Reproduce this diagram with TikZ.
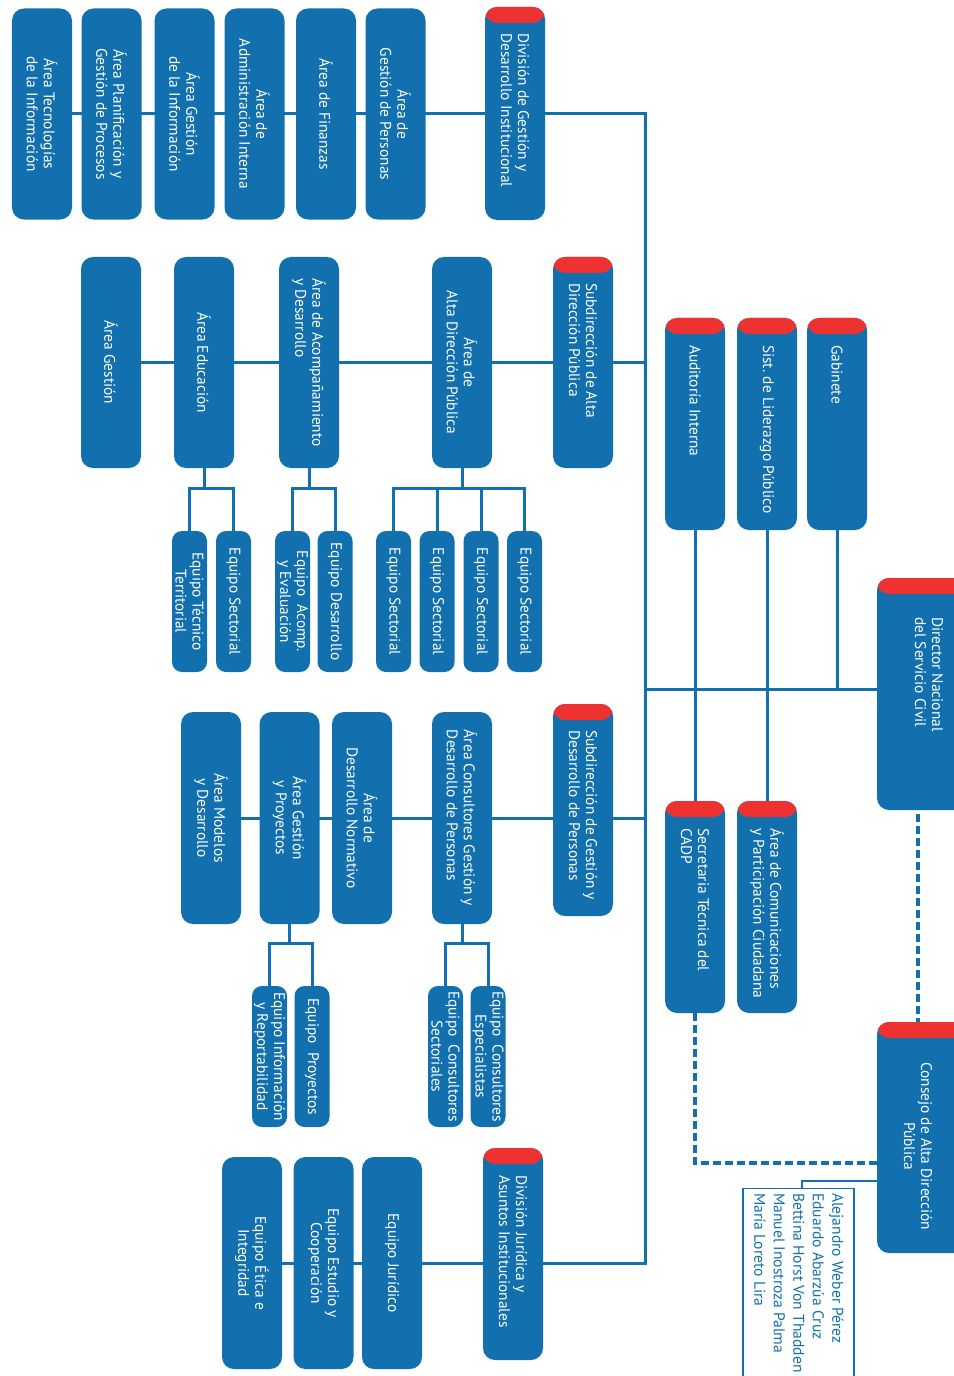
\documentclass[tikz,border=0pt]{standalone}
\usepackage{fontspec}
\setmainfont{PT Sans}
\usetikzlibrary{backgrounds}
\definecolor{cblue}{RGB}{17,112,173}
\definecolor{cred}{RGB}{238,49,49}
\frenchspacing
\begin{document}
\begin{tikzpicture}[x=1bp,y=-1bp,
 box/.style={fill=cblue, rounded corners=12bp, minimum width=60bp, minimum height=211bp, inner sep=0pt, outer sep=0pt},
 sbox/.style={fill=cblue, rounded corners=10bp, minimum width=35bp, minimum height=141bp, inner sep=0pt, outer sep=0pt},
 redtop/.style={path picture={\fill[cred] ([yshift=2bp]path picture bounding box.north west) rectangle ([yshift=-16bp]path picture bounding box.north east);}},
 lbl/.style={text=white, font=\fontsize{15.4bp}{17bp}\selectfont, inner sep=0pt, rotate=-90, align=center},
 conn/.style={draw=cblue, line width=3bp},
 dconn/.style={draw=cblue, line width=4bp, dash pattern=on 8bp off 4bp},
 tconn/.style={draw=cblue, line width=1.3bp},
]
\useasboundingbox (0,0) rectangle (953,1376);

% Row 1
\node[box] (r1a) at (42,114) {};
\node[box] (r1b) at (111.5,114) {};
\node[box] (r1c) at (184.5,114) {};
\node[box] (r1d) at (254.5,114) {};
\node[box] (r1e) at (326,114) {};
\node[box] (r1f) at (395.5,114) {};
\node[box,redtop,minimum height=213bp] (r1g) at (515,113.5) {};
\node[lbl] (t1a) at (r1a.center) {Área Tecnologías\\de la Información};
\node[lbl] (t1b) at (r1b.center) {Área Planificación y\\Gestión de Procesos};
\node[lbl] (t1c) at (r1c.center) {Área Gestión\\de la Información};
\node[lbl] (t1d) at (r1d.center) {Área de\\Administración Interna};
\node[lbl] (t1e) at (r1e.center) {Área de Finanzas};
\node[lbl] (t1f) at (r1f.center) {Área de\\Gestión de Personas};
\node[lbl,align=left,anchor=west] (t1g) at ([yshift=-26bp]r1g.north) {División de Gestión y\\Desarrollo Institucional};

% Row 2
\node[box] (r2a) at (111,362.5) {};
\node[box] (r2b) at (204,362.5) {};
\node[box] (r2c) at (309,362.5) {};
\node[box] (r2d) at (462,362.5) {};
\node[box,redtop] (r2e) at (583,362.5) {};
\node[lbl] (t2a) at (r2a.center) {Área Gestión};
\node[lbl] (t2b) at (r2b.center) {Área Educación};
\node[lbl,align=left] (t2c) at (r2c.center) {Área de Acompañamiento\\y Desarrollo};
\node[lbl] (t2d) at (r2d.center) {Área de\\Alta Dirección Pública};
\node[lbl,align=left,anchor=west] (t2e) at ([yshift=-26bp]r2e.north) {Subdirección de Alta\\Dirección Pública};

% Row 2 children
\node[sbox] (k1) at (189.5,601.5) {};
\node[sbox] (k2) at (233.5,601.5) {};
\node[sbox] (k3) at (292.5,601.5) {};
\node[sbox] (k4) at (335,601.5) {};
\node[sbox] (k5) at (393.5,601.5) {};
\node[sbox] (k6) at (437,601.5) {};
\node[sbox] (k7) at (481,601.5) {};
\node[sbox] (k8) at (524.5,601.5) {};
\node[lbl] (tk1) at (k1.center) {Equipo Técnico\\Territorial};
\node[lbl] (tk2) at (k2.center) {Equipo Sectorial};
\node[lbl] (tk3) at (k3.center) {Equipo\ \ Acomp.\\y Evaluación};
\node[lbl] (tk4) at (k4.center) {Equipo Desarrollo};
\node[lbl] (tk5) at (k5.center) {Equipo Sectorial};
\node[lbl] (tk6) at (k6.center) {Equipo Sectorial};
\node[lbl] (tk7) at (k7.center) {Equipo Sectorial};
\node[lbl] (tk8) at (k8.center) {Equipo Sectorial};

% Right column
\node[box,redtop,minimum height=212bp] (aud) at (695,424) {};
\node[box,redtop,minimum height=212bp] (sist) at (767,424) {};
\node[box,redtop,minimum height=212bp] (gab) at (837,424) {};
\node[lbl,anchor=west] (taud) at ([yshift=-27bp]aud.north) {Auditoría Interna};
\node[lbl,anchor=west] (tsist) at ([yshift=-27bp]sist.north) {Sist. de Liderazgo Público};
\node[lbl,anchor=west] (tgab) at ([yshift=-27bp]gab.north) {Gabinete};
\node[box,redtop,minimum width=120bp,minimum height=232bp] (dir) at (937,694) {};
\node[lbl,align=left,anchor=west] (tdir) at (929,617) {Director Nacional\\del Servicio Civil};

% Row 3
\node[box,minimum height=212bp] (r3a) at (211,818) {};
\node[box,minimum height=212bp] (r3b) at (289.5,818) {};
\node[box,minimum height=212bp] (r3c) at (362,818) {};
\node[box,minimum height=212bp] (r3d) at (462,818) {};
\node[box,redtop,minimum height=212bp] (r3e) at (583,810) {};
\node[lbl] (t3a) at (r3a.center) {Área Modelos\\y Desarrollo};
\node[lbl] (t3b) at (r3b.center) {Área Gestión\\y Proyectos};
\node[lbl] (t3c) at (r3c.center) {Área de\\Desarrollo Normativo};
\node[lbl,align=left] (t3d) at (r3d.center) {Área Consultores Gestión y\\Desarrollo de Personas};
\node[lbl,align=left,anchor=west] (t3e) at ([yshift=-26bp]r3e.north) {Subdirección de Gestión y\\Desarrollo de Personas};

% Row 3 children
\node[sbox] (m1) at (269.5,1056.5) {};
\node[sbox] (m2) at (312,1056.5) {};
\node[sbox] (m3) at (445.5,1056.5) {};
\node[sbox] (m4) at (488,1056.5) {};
\node[lbl] (tm1) at (m1.center) {Equipo Información\\y Reportabilidad};
\node[lbl] (tm2) at (m2.center) {Equipo\ \ Proyectos};
\node[lbl] (tm3) at (m3.center) {Equipo\ \ Consultores\\Sectoriales};
\node[lbl] (tm4) at (m4.center) {Equipo\ \ Consultores\\Especialistas};

% Lower right
\node[box,redtop,minimum height=212bp] (sec) at (695,907) {};
\node[box,redtop,minimum height=212bp] (acpc) at (767,907) {};
\node[lbl,align=left,anchor=west] (tsec) at ([yshift=-27bp]sec.north) {Secretaria Técnica del\\CADP};
\node[lbl,align=left,anchor=west] (tacpc) at ([yshift=-27bp]acpc.north) {Área de Comunicaciones\\y Participación Ciudadana};
\node[box,redtop,minimum width=120bp,minimum height=231bp] (cons) at (937,1137.5) {};
\node[lbl,anchor=west] (tcons) at (918,1062) {Consejo de Alta Dirección\\Pública};

% Members
\node[draw=cblue, line width=1.3bp, minimum width=111bp, minimum height=240bp, anchor=north, inner sep=0pt] (mem) at (798.5,1188) {};
\node[rotate=-90, anchor=west, align=left, text=cblue, font=\fontsize{15.6bp}{19.5bp}\selectfont, inner sep=0pt] (names) at (799,1193) {Alejandro Weber Pérez\\Eduardo Abarzúa Cruz\\Bettina Horst Von Thadden\\Manuel Inostroza Palma\\María Loreto Lira};

% Bottom row
\node[box,minimum height=212bp] (b1) at (252,1263) {};
\node[box,minimum height=212bp] (b2) at (323.5,1263) {};
\node[box,minimum height=212bp] (b3) at (392,1263) {};
\node[box,redtop,minimum height=212bp] (b4) at (513,1254) {};
\node[lbl] (tb1) at (b1.center) {Equipo Ética e\\Integridad};
\node[lbl] (tb2) at (b2.center) {Equipo Estudio y\\Cooperación};
\node[lbl] (tb3) at (b3.center) {Equipo Jurídico};
\node[lbl,align=left,anchor=west] (tb4) at ([yshift=-27bp]b4.north) {División Jurídica y\\Asuntos Institucionales};

% Coordinates
\coordinate (tTop) at (645,114);
\coordinate (tBot) at (645,1263);
\coordinate (jD) at (645,689);
\coordinate (dj) at (695,1163);
\coordinate (mj) at (802,1181);

\begin{pgfonlayer}{background}
\draw[conn] (r1a.center) -- (tTop) -- (tBot) -- (b1.center);
\draw[conn] (r2a.center) -- (r2a.center -| tTop);
\draw[conn] (r3a.center) -- (r3a.center -| tTop);
\draw[conn] (jD) -- (jD -| dir.west);
\draw[conn] (aud.south) -- (sec.north);
\draw[conn] (sist.south) -- (acpc.north);
\draw[conn] (gab.south) -- (gab.south |- jD);
% brackets row 2
\draw[conn] (r2b.south) -- ++(0,20) coordinate (eb);
\draw[conn] (k1.north) |- (eb) -| (k2.north);
\draw[conn] (r2c.south) -- ++(0,20) coordinate (cb);
\draw[conn] (k3.north) |- (cb) -| (k4.north);
\draw[conn] (r2d.south) -- ++(0,20) coordinate (ab);
\draw[conn] (k5.north) |- (ab) -| (k8.north);
\draw[conn] (k6.north) -- (k6.north |- ab);
\draw[conn] (k7.north) -- (k7.north |- ab);
% brackets row 3
\draw[conn] (r3b.south) -- ++(0,19) coordinate (gb);
\draw[conn] (m1.north) |- (gb) -| (m2.north);
\draw[conn] (r3d.south) -- ++(0,19) coordinate (db);
\draw[conn] (m3.north) |- (db) -| (m4.north);
% dashed
\draw[dconn] ([xshift=-19bp,yshift=-4bp]dir.south) -- ([xshift=-19bp]cons.north);
\draw[dconn] (sec.south) -- (dj) -- (dj -| cons.west);
% members
\draw[tconn] (mj -| cons.west) -- (mj) -- (mj |- mem.north);
\end{pgfonlayer}
\end{tikzpicture}
\end{document}
